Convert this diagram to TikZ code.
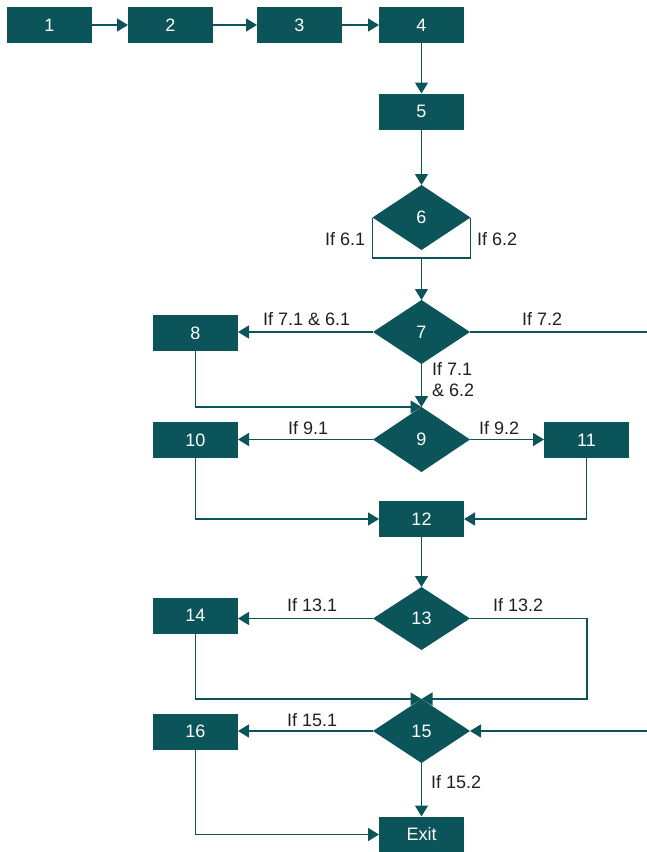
\documentclass[tikz,border=0pt]{standalone}
\usepackage{fontspec}
\setmainfont{Liberation Sans}
\usetikzlibrary{shapes.geometric,arrows.meta}
\definecolor{teal1}{RGB}{11,84,90}
\definecolor{lbl}{RGB}{35,31,32}
\begin{document}
\begin{tikzpicture}[x=1pt,y=-1pt,
  box/.style={rectangle,fill=teal1,text=white,minimum width=85pt,minimum height=36pt,inner sep=0pt,outer sep=0pt,font=\fontsize{18}{20}\selectfont},
  dia/.style={diamond,fill=teal1,text=white,minimum width=97pt,minimum height=64pt,inner sep=0pt,outer sep=0pt,font=\fontsize{18}{20}\selectfont},
  lab/.style={text=lbl,inner sep=0pt,anchor=west,font=\fontsize{18}{20}\selectfont},
  conn/.style={draw=teal1,line width=1.5pt},
  arr/.style={conn,-{Triangle[length=11pt,width=13pt]}}]
\useasboundingbox (0,0) rectangle (647,852);
% nodes
\node[box] (n1) at (49.5,25) {1};
\node[box] (n2) at (170.5,25) {2};
\node[box] (n3) at (299.5,25) {3};
\node[box] (n4) at (421.5,25) {4};
\node[box] (n5) at (421.5,111.5) {5};
\node[dia,minimum width=98pt,minimum height=65pt] (d6) at (421.5,217.5) {6};
\coordinate (b6) at (421.5,258);
\node[dia] (d7) at (421.5,332) {7};
\coordinate (r7) at (647,332);
\node[box] (n8) at (195.5,333) {8};
\node[dia,minimum height=65pt] (d9) at (421.5,439.5) {9};
\node[box] (n10) at (195.5,440) {10};
\node[box] (n11) at (586.5,440) {11};
\node[box] (n12) at (421.5,519) {12};
\node[dia,minimum height=63pt] (d13) at (421.5,618.5) {13};
\coordinate (c13) at (587,699);
\node[box] (n14) at (195.5,615.5) {14};
\node[dia] (d15) at (421.5,731) {15};
\coordinate (r15) at (647,731);
\node[box] (n16) at (195.5,731.5) {16};
\node[box] (ex) at (421.5,834.5) {Exit};
% connectors
\draw[arr] (n1) -- (n2);
\draw[arr] (n2) -- (n3);
\draw[arr] (n3) -- (n4);
\draw[arr] (n4) -- (n5);
\draw[arr] (n5) -- (d6);
\draw[conn] (d6.west) -- (d6.west |- b6) -- (d6.east |- b6) -- (d6.east);
\draw[arr] (b6) -- (d7.north);
\draw[arr] (d7.west) -- (d7.west -| n8.east);
\draw[conn] (d7.east) -- (r7);
\draw[arr] (d7.south) -- (d9.north);
\draw[arr] (n8.south) |- (d9.north);
\draw[arr] (d9.west) -- (d9.west -| n10.east);
\draw[arr] (d9.east) -- (d9.east -| n11.west);
\draw[arr] (n10.south) |- (n12.west);
\draw[arr] (n11.south) |- (n12.east);
\draw[arr] (n12.south) -- (d13.north);
\draw[arr] (d13.west) -- (d13.west -| n14.east);
\draw[arr] (d13.east) -| (c13) -- (d15.north);
\draw[arr] (n14.south) |- (d15.north);
\draw[arr] (d15.west) -- (d15.west -| n16.east);
\draw[arr] (r15) -- (d15.east);
\draw[arr] (d15.south) -- (ex.north);
\draw[arr] (n16.south) |- (ex.west);
% labels
\node[lab] (l61) at (325,239) {If 6.1};
\node[lab] (l62) at (477,239) {If 6.2};
\node[lab] (l7161) at (263,319) {If 7.1 \& 6.1};
\node[lab] (l72) at (522,319) {If 7.2};
\node[lab] (l7162a) at (432,369) {If 7.1};
\node[lab] (l7162b) at (432,390) {\& 6.2};
\node[lab] (l91) at (288,428) {If 9.1};
\node[lab] (l92) at (479,428) {If 9.2};
\node[lab] (l131) at (287,605) {If 13.1};
\node[lab] (l132) at (493,605) {If 13.2};
\node[lab] (l151) at (287,720) {If 15.1};
\node[lab] (l152) at (431,782) {If 15.2};
\end{tikzpicture}
\end{document}
